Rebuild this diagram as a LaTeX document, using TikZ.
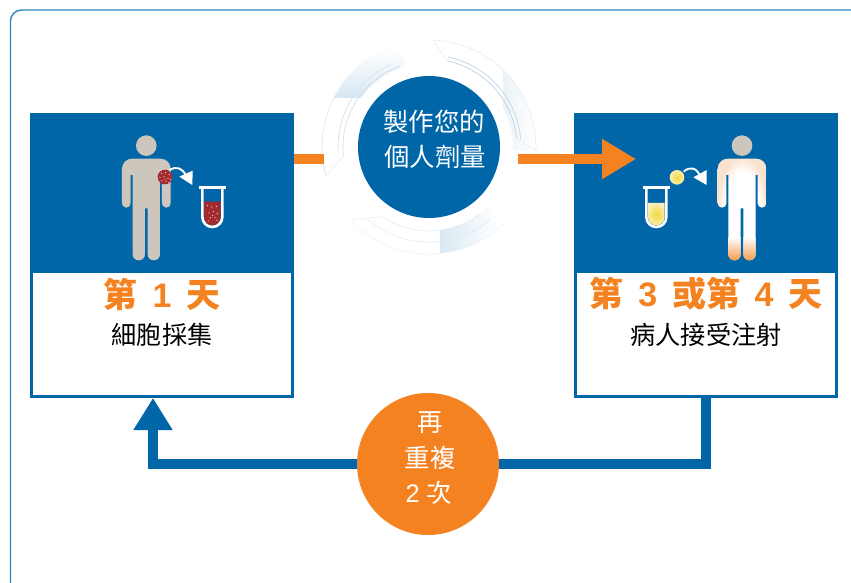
\documentclass[tikz,border=0pt]{standalone}
\usepackage{fontspec}
\usetikzlibrary{arrows.meta,calc}
\setmainfont{Noto Sans CJK TC}
\newfontfamily\latinfont{Liberation Sans}
\definecolor{mainblue}{HTML}{0066A8}
\definecolor{mainorange}{HTML}{F58220}
\definecolor{edgeblue}{HTML}{2E86BE}
\definecolor{figgray}{HTML}{CCC6BC}
\definecolor{cellred}{HTML}{A32A2E}
\definecolor{ringline}{HTML}{B4CCE2}
\definecolor{peach}{HTML}{FAE2D0}
\definecolor{liqyellow}{HTML}{F2D93C}
\definecolor{paleyellow}{HTML}{F8EDB0}
\pgfdeclareradialshading{bodyglow}{\pgfpoint{0bp}{0bp}}{color(0bp)=(white);color(18bp)=(white);color(25bp)=(peach);color(50bp)=(peach)}
\tikzset{
  stepbox/.style={draw=mainblue,fill=white,line width=3pt,minimum width=261pt,minimum height=282pt,inner sep=0pt,outer sep=0pt},
  bluedisc/.style={circle,fill=mainblue,minimum size=142pt,inner sep=0pt,outer sep=0pt},
  orangedisc/.style={circle,fill=mainorange,minimum size=142pt,inner sep=0pt,outer sep=0pt},
  daylabel/.style={font=\fontsize{34}{38}\selectfont\bfseries,text=mainorange,inner sep=0pt},
  sublabel/.style={font=\fontsize{25.2}{29}\selectfont,text=black,inner sep=0pt},
  disclabel/.style={font=\fontsize{25.4}{29}\selectfont,text=white,inner sep=0pt},
  orangeflow/.style={draw=mainorange,line width=10pt},
  blueflow/.style={draw=mainblue,line width=10pt},
  curlarrow/.style={draw=white,line width=1.9pt}
}
\newcommand{\daygap}{\hspace{14.6pt}}
\newcommand{\daynum}[1]{{\latinfont\bfseries #1}}
\def\bodypath{[rounded corners=10pt] (0,116) -- (73,116) [rounded corners=4.3pt] -- (73,263) -- (47,263) [sharp corners] -- (47,165) -- (41,165) [rounded corners=6pt] -- (41,421) -- (4,421) [sharp corners] -- (4,265) -- (-4,265) [rounded corners=6pt] -- (-4,421) -- (-41,421) [sharp corners] -- (-41,165) -- (-47,165) [rounded corners=4.3pt] -- (-47,263) -- (-73,263) [rounded corners=10pt] -- (-73,116) -- cycle}
\def\tubeshape{(-30,0) -- (-30,88) arc[start angle=180,end angle=0,radius=30] -- (30,0)}
\def\sectorpath#1#2#3#4{(#1:#3) arc[start angle=#1,end angle=#2,radius=#3] -- (#2:#4) arc[start angle=#2,end angle=#1,radius=#4] -- cycle}
% arc a1..a2 at radius r, line strength going linearly from s1% to s2%
\newcommand{\fadearc}[5]{%
  \foreach \k in {1,...,16}{%
    \pgfmathsetmacro{\aa}{#1+(#2-#1)*(\k-1)/16}%
    \pgfmathsetmacro{\ab}{#1+(#2-#1)*\k/16}%
    \pgfmathsetmacro{\ss}{#4+(#5-#4)*(\k-0.5)/16}%
    \draw[draw=ringline!\ss!white,line width=0.7pt] (\aa:#3) arc[start angle=\aa,end angle=\ab,radius=#3];
  }}
\begin{document}
\begin{tikzpicture}[x=1pt,y=-1pt]
\useasboundingbox (0,0) rectangle (851,583);
\fill[white] (0,0) rectangle (851,583);
% frame
\draw[edgeblue,line width=1.4pt,rounded corners=11pt] (856,10) -- (10.5,10) -- (10.5,590);
% ring
\begin{scope}[shift={(429,147)},y=1pt]
  \begin{scope}
    \clip \sectorpath{106}{196}{84}{107};
    \shade[top color=white,bottom color=mainblue!16!white] (-109,97) rectangle (-24,49);
  \end{scope}
  \begin{scope}
    \clip \sectorpath{-2}{88}{84}{107};
    \shade[left color=mainblue!8!white,right color=white] (74,110) rectangle (108,-5);
  \end{scope}
  \begin{scope}
    \clip \sectorpath{223}{314}{84}{107};
    \shade[left color=mainblue!15!white,right color=white] (11,-60) rectangle (68,-110);
  \end{scope}
  % upper left section
  \fadearc{112}{196}{107}{10}{60}
  \fadearc{110}{186}{86}{70}{60}
  \fadearc{115}{182}{91}{50}{60}
  \draw[draw=ringline!30!white,line width=0.6pt] (186:86) -- (196:107);
  % upper right section
  \fadearc{88}{-2}{107}{30}{35}
  \fadearc{78}{6}{88}{90}{90}
  \fadearc{78}{5}{92}{90}{80}
  \draw[draw=ringline!30!white,line width=0.6pt] (88:107) -- (78:88);
  \draw[draw=ringline!30!white,line width=0.6pt] (-2:107) -- (6:88);
  % lower section
  \fadearc{223}{314}{107}{18}{25}
  \fadearc{236}{306}{84}{30}{35}
  \fadearc{228}{310}{95}{25}{45}
  \draw[draw=ringline!25!white,line width=0.6pt] (223:107) -- (236:84);
\end{scope}
% boxes
\node[stepbox] (lbox) at (162,255.5) {};
\node[stepbox] (rbox) at (706,255.5) {};
\fill[mainblue] (lbox.north west) ++(-1.5,-1.5) rectangle (294,273);
\fill[mainblue] (rbox.north west) ++(-1.5,-1.5) rectangle (838,273);
% connector coordinates
\coordinate (stubend) at (324,159);
\coordinate (flowstart) at (518,159);
\coordinate (flowend) at (636,159);
\coordinate (loopend) at (153,398);
\draw[orangeflow] ([xshift=1.5pt]lbox.east |- stubend) -- (stubend);
\draw[orangeflow,-{Triangle[length=34pt,width=38pt]}] (flowstart) -- (flowend);
% discs
\node[bluedisc] (make) at (429,147) {};
\node[orangedisc] (rep) at (428,464) {};
\draw[blueflow] (rbox.south) |- (rep.east);
\draw[blueflow,-{Triangle[length=32pt,width=37pt]}] (rep.west) -| (loopend);
\node[disclabel] (m1) at (434,122) {製作您的};
\node[disclabel] (m2) at (435,157) {個人劑量};
\node[disclabel] (r1) at (430,423) {再};
\node[disclabel] (r2) at (430,458) {重複};
\node[disclabel] (r3) at (429,493) {{\latinfont 2}\hspace{7pt}次};
\node[daylabel] (d1) at (162,294) {第\daygap\daynum{1}\daygap 天};
\node[sublabel] (s1) at (162,335) {細胞採集};
\node[daylabel] (d2) at (706,294) {第\daygap\daynum{3}\daygap 或第\daygap\daynum{4}\daygap 天};
\node[sublabel] (s2) at (706,335) {病人接受注射};
% left figure
\begin{scope}[shift={(146.3,120)},scale=1/3]
  \fill[figgray] (0,77) circle[radius=31];
  \fill[figgray] \bodypath;
\end{scope}
% left cell, curl, tube
\begin{scope}[shift={(100,120)},scale=1/3]
  \fill[cellred] (195,171) circle[radius=22];
  \foreach \p in {(185,160),(197,158),(208,164),(180,172),(192,170),(204,175),(212,178),(186,182),(198,184),(207,187),(195,177)}
    \fill[white!85!cellred] \p circle[radius=1.8];
  \draw[curlarrow] (209,150) .. controls (228,138) and (248,143) .. (258,168);
  \fill[white] (278,152) -- (238,170) -- (277,195) -- cycle;
  \begin{scope}[shift={(337,203)}]
    \fill[cellred] (-25,42) -- (25,42) -- (25,88) arc[start angle=0,end angle=180,radius=25] -- cycle;
    \foreach \p in {(-14,54),(-2,58),(12,56),(-10,76),(3,72),(15,78),(-6,90),(8,90),(14,98),(-12,100),(1,84)}
      \fill[white!85!cellred] \p circle[radius=1.8];
    \draw[white,line width=2.6pt] \tubeshape;
    \draw[white,line width=2.6pt] (-41,0) -- (41,0);
  \end{scope}
\end{scope}
% right figure
\begin{scope}[shift={(742,120)},scale=1/3]
  \fill[figgray] (0,77) circle[radius=31];
  \begin{scope}
    \clip \bodypath;
    \shade[shading=bodyglow] (-74,110) rectangle (74,430);
    \shade[top color=white,bottom color=mainorange!85!white] (-42,352) rectangle (42,425);
  \end{scope}
\end{scope}
% right cell, curl, tube
\begin{scope}[shift={(620,120)},scale=1/3]
  \shade[inner color=liqyellow,outer color=paleyellow] (171,172) circle[radius=22];
  \draw[curlarrow] (191,155) .. controls (210,138) and (230,143) .. (240,168);
  \fill[white] (260,150) -- (220,172) -- (260,195) -- cycle;
  \begin{scope}[shift={(109,203)}]
    \begin{scope}
      \clip (-25,46) -- (25,46) -- (25,88) arc[start angle=0,end angle=180,radius=25] -- cycle;
      \shade[inner color=liqyellow,outer color=paleyellow!70!white] (-34,40) rectangle (34,122);
    \end{scope}
    \draw[white,line width=2.6pt] \tubeshape;
    \draw[white,line width=2.6pt] (-41,0) -- (41,0);
  \end{scope}
\end{scope}
\end{tikzpicture}
\end{document}
